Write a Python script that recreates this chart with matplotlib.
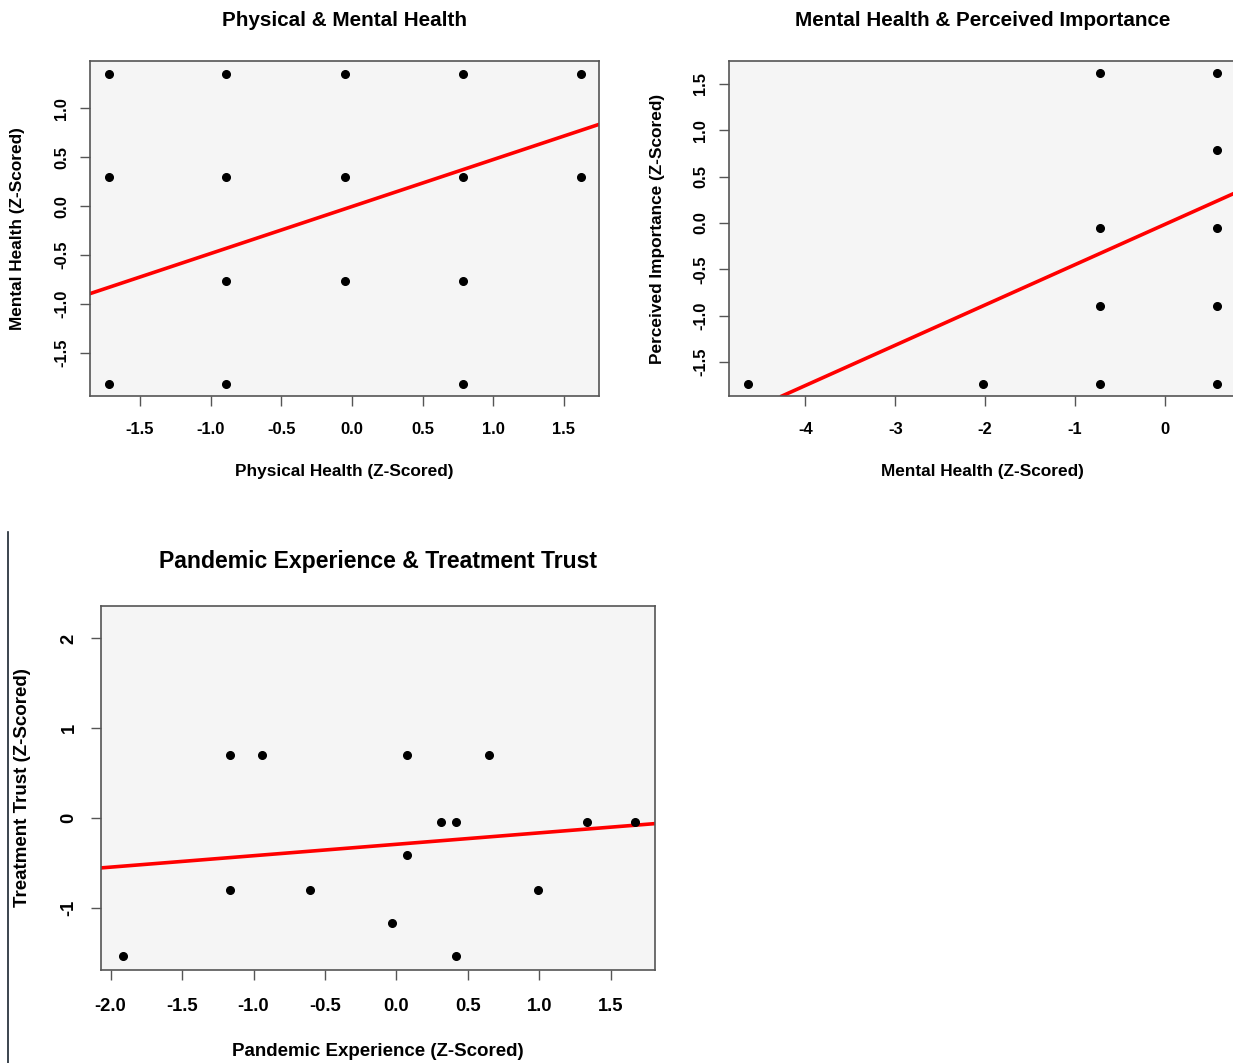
import matplotlib.pyplot as plt
from matplotlib.lines import Line2D

# panel 1: physical vs mental health (z-scored)
phys_x = [-1.72, -0.89, -0.05, 0.79, 1.62,
          -1.72, -0.89, -0.05, 0.79, 1.62,
          -0.89, -0.05, 0.79,
          -1.72, -0.89, 0.79]
ment_y = [1.354, 1.354, 1.354, 1.354, 1.354,
          0.301, 0.301, 0.301, 0.301, 0.301,
          -0.763, -0.763, -0.763,
          -1.813, -1.813, -1.813]
fit1 = (-0.003, 0.48)  # intercept, slope

# panel 2: mental health vs perceived importance
ment_x = [0.58, 0.58, 0.58, 0.58, 0.58,
          -0.72, -0.72, -0.72, -0.72,
          -2.03, -4.64]
imp_y = [1.61, 0.79, -0.05, -0.89, -1.73,
         1.61, -0.05, -0.89, -1.73,
         -1.73, -1.73]
fit2 = (-0.015, 0.434)

# panel 3: pandemic experience vs treatment trust
pand_x = [-1.916, -1.163, -0.944, -1.163, -0.604, -0.030, 0.076, 0.076,
          0.310, 0.416, 0.416, 0.650, 0.990, 1.330, 1.667]
trust_y = [-1.53, 0.708, 0.708, -0.796, -0.796, -1.16, 0.708, -0.41,
           -0.042, -0.042, -1.53, 0.708, -0.796, -0.042, -0.042]
fit3 = (-0.288, 0.127)

W, H = 1233, 1063
plt.rcParams['font.family'] = 'Liberation Sans'
plt.rcParams['font.weight'] = 'bold'
fig = plt.figure(figsize=(W / 100, H / 100), dpi=100)


def fmt(v):
    return f'{v:g}' if isinstance(v, int) else f'{v:.1f}'


def make_panel(box, x, y, fit, title, xlab, ylab, xlim, ylim, xticks, yticks,
               fs_title, fs_lab, fs_tick, title_y, xpad, ypad):
    l, t, r, b = box
    ax = fig.add_axes([l / W, 1 - b / H, (r - l) / W, (b - t) / H])
    ax.set_facecolor('#f5f5f5')
    ax.plot(x, y, 'o', color='black', markersize=5.5, zorder=3)
    ax.axline((0, fit[0]), slope=fit[1], color='red', lw=2.6, zorder=2)
    ax.set_xlim(xlim)
    ax.set_ylim(ylim)
    ax.set_xticks(xticks)
    ax.set_yticks(yticks)
    ax.set_xticklabels([fmt(v) for v in xticks])
    ax.set_yticklabels([fmt(v) for v in yticks], rotation=90, va='center')
    ax.tick_params(axis='x', length=7, width=1, color='#555555', pad=xpad, labelsize=fs_tick)
    ax.tick_params(axis='y', length=7, width=1, color='#555555', pad=ypad, labelsize=fs_tick)
    for s in ax.spines.values():
        s.set_color('#555555')
        s.set_linewidth(1.2)
    ax.set_title(title, fontsize=fs_title, fontweight='bold', y=title_y, va='center', pad=0)
    ax.set_xlabel(xlab, fontsize=fs_lab, fontweight='bold', va='center')
    ax.set_ylabel(ylab, fontsize=fs_lab, fontweight='bold', va='center')
    ax.xaxis.set_label_coords(0.5, -0.224)
    ax.yaxis.set_label_coords(-0.142, 0.5)
    return ax


make_panel((90, 61, 599, 396), phys_x, ment_y, fit1,
           'Physical & Mental Health', 'Physical Health (Z-Scored)',
           'Mental Health (Z-Scored)', (-1.855, 1.75), (-1.94, 1.485),
           [-1.5, -1.0, -0.5, 0.0, 0.5, 1.0, 1.5], [-1.5, -1.0, -0.5, 0.0, 0.5, 1.0],
           14.9, 12.4, 11.9, 1.122, 12, 8)

make_panel((729, 61, 1236, 396), ment_x, imp_y, fit2,
           'Mental Health & Perceived Importance', 'Mental Health (Z-Scored)',
           'Perceived Importance (Z-Scored)', (-4.85, 0.79), (-1.864, 1.744),
           [-4, -3, -2, -1, 0], [-1.5, -1.0, -0.5, 0.0, 0.5, 1.0, 1.5],
           14.9, 12.4, 11.9, 1.122, 12, 8)

make_panel((101, 606, 655, 970), pand_x, trust_y, fit3,
           'Pandemic Experience & Treatment Trust', 'Pandemic Experience (Z-Scored)',
           'Treatment Trust (Z-Scored)', (-2.067, 1.809), (-1.685, 2.36),
           [-2.0, -1.5, -1.0, -0.5, 0.0, 0.5, 1.0, 1.5], [-1, 0, 1, 2],
           16.6, 13.5, 13.2, 1.1236, 13, 10)

# stray border line at left of the lower panel
fig.add_artist(Line2D([7.5 / W, 7.5 / W], [0, 1 - 532 / H], color='#1a2530', lw=1.2))

fig.savefig('out.png', dpi=100)
